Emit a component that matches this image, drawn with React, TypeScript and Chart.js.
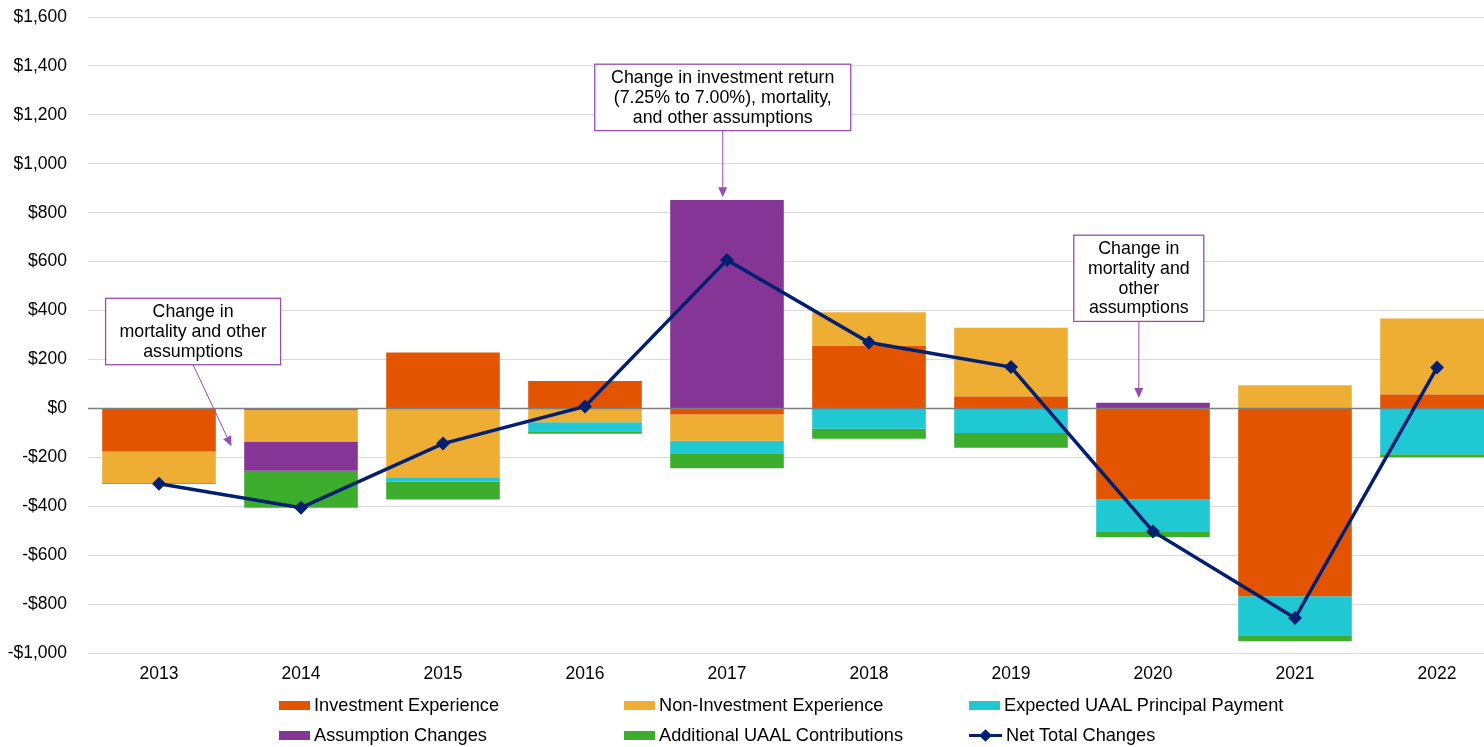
import React, { useEffect, useRef } from "react";
import { Chart, registerables } from "chart.js";

Chart.register(...registerables);

const years = ["2013", "2014", "2015", "2016", "2017", "2018", "2019", "2020", "2021", "2022"];
const investmentExperience = [-176, -8, 228, 112, -25, 255, 49, -372, -768, 57];
const nonInvestmentExperience = [-129, -127, -282, -57, -107, 138, 281, 0, 95, 310];
const expectedUaalPrincipal = [-4, 0, -17, -36, -51, -83, -101, -130, -159, -187];
const assumptionChanges = [0, -120, 0, 0, 852, 0, 0, 23, 0, 0];
const additionalUaalContributions = [0, -151, -73, -11, -62, -41, -60, -24, -25, -13];
const netTotalChanges = [-308, -406, -144, 8, 607, 269, 169, -503, -857, 167];

const yMin = -1000;
const yMax = 1600;
const yStep = 200;

const FONT = "'Liberation Sans', Arial, Helvetica, sans-serif";

const COLORS = {
  inv: "#E35400",
  nonInv: "#EDAE33",
  cyan: "#1FC8D2",
  purple: "#843596",
  green: "#3DAD2E",
  net: "#021F70",
  callout: "#9A4DB0",
};

type Callout = {
  lines: string[];
  cx: number; // category index (fractional)
  top: number; // value units
  width: number;
  arrowTo: [number, number]; // [category index, value]
};

const callouts: Callout[] = [
  { lines: ["Change in", "mortality and other", "assumptions"], cx: 0.24, top: 450, width: 175, arrowTo: [0.51, -155] },
  {
    lines: ["Change in investment return", "(7.25% to 7.00%), mortality,", "and other assumptions"],
    cx: 3.97,
    top: 1407,
    width: 256,
    arrowTo: [3.97, 863],
  },
  { lines: ["Change in", "mortality and", "other", "assumptions"], cx: 6.9, top: 708, width: 130, arrowTo: [6.9, 42] },
];

const legendItems = [
  { label: "Investment Experience", color: COLORS.inv, kind: "box" },
  { label: "Non-Investment Experience", color: COLORS.nonInv, kind: "box" },
  { label: "Expected UAAL Principal Payment", color: COLORS.cyan, kind: "box" },
  { label: "Assumption Changes", color: COLORS.purple, kind: "box" },
  { label: "Additional UAAL Contributions", color: COLORS.green, kind: "box" },
  { label: "Net Total Changes", color: COLORS.net, kind: "line" },
];

const fmtMoney = (v: number) => {
  const s = "$" + Math.abs(v).toLocaleString("en-US");
  return v < 0 ? "-" + s : s;
};

const zeroLinePlugin = {
  id: "zeroLine",
  beforeDatasetDraw(chart: any, args: any) {
    if (args.meta.type !== "line") return;
    const { ctx, chartArea } = chart;
    const y = Math.round(chart.scales.y.getPixelForValue(0)) + 0.5;
    ctx.save();
    ctx.strokeStyle = "#7F7F7F";
    ctx.lineWidth = 1.6;
    ctx.beginPath();
    ctx.moveTo(chartArea.left, y);
    ctx.lineTo(chartArea.right, y);
    ctx.stroke();
    ctx.restore();
  },
};

const calloutPlugin = {
  id: "callouts",
  afterDraw(chart: any) {
    const { ctx } = chart;
    const xs = chart.scales.x;
    const ys = chart.scales.y;
    const lh = 19.8;
    callouts.forEach((c) => {
      const cx = xs.getPixelForValue(c.cx);
      const top = ys.getPixelForValue(c.top);
      const h = c.lines.length * lh + 7;
      const left = cx - c.width / 2;
      ctx.save();
      ctx.fillStyle = "#FFFFFF";
      ctx.fillRect(left, top, c.width, h);
      ctx.strokeStyle = COLORS.callout;
      ctx.lineWidth = 1.3;
      ctx.strokeRect(left, top, c.width, h);
      ctx.fillStyle = "#000000";
      ctx.font = `17.8px ${FONT}`;
      ctx.textAlign = "center";
      ctx.textBaseline = "middle";
      c.lines.forEach((ln, i) => ctx.fillText(ln, cx, top + 14 + i * lh));
      // arrow
      const sx = cx;
      const sy = top + h;
      const ex = xs.getPixelForValue(c.arrowTo[0]);
      const ey = ys.getPixelForValue(c.arrowTo[1]);
      const ang = Math.atan2(ey - sy, ex - sx);
      const al = 10;
      const aw = 4.5;
      const bx = ex - Math.cos(ang) * al;
      const by = ey - Math.sin(ang) * al;
      ctx.strokeStyle = COLORS.callout;
      ctx.lineWidth = 1;
      ctx.beginPath();
      ctx.moveTo(sx, sy);
      ctx.lineTo(bx, by);
      ctx.stroke();
      ctx.fillStyle = COLORS.callout;
      ctx.beginPath();
      ctx.moveTo(ex, ey);
      ctx.lineTo(bx - Math.sin(ang) * aw, by + Math.cos(ang) * aw);
      ctx.lineTo(bx + Math.sin(ang) * aw, by - Math.cos(ang) * aw);
      ctx.closePath();
      ctx.fill();
      ctx.restore();
    });
  },
};

const nz = (arr: number[]) => arr.map((v) => (v === 0 ? null : v));

export default function App() {
  const canvasRef = useRef<HTMLCanvasElement | null>(null);

  useEffect(() => {
    if (!canvasRef.current) return;
    const barCommon = {
      type: "bar" as const,
      stack: "s",
      order: 1,
      barPercentage: 0.8,
      categoryPercentage: 1,
      borderWidth: 0,
    };
    const chart = new Chart(canvasRef.current, {
      type: "bar",
      data: {
        labels: years,
        datasets: [
          { ...barCommon, label: "Investment Experience", data: nz(investmentExperience), backgroundColor: COLORS.inv },
          { ...barCommon, label: "Non-Investment Experience", data: nz(nonInvestmentExperience), backgroundColor: COLORS.nonInv },
          { ...barCommon, label: "Expected UAAL Principal Payment", data: nz(expectedUaalPrincipal), backgroundColor: COLORS.cyan },
          { ...barCommon, label: "Assumption Changes", data: nz(assumptionChanges), backgroundColor: COLORS.purple },
          { ...barCommon, label: "Additional UAAL Contributions", data: nz(additionalUaalContributions), backgroundColor: COLORS.green },
          {
            type: "line" as const,
            label: "Net Total Changes",
            data: netTotalChanges,
            order: 0,
            borderColor: COLORS.net,
            backgroundColor: COLORS.net,
            borderWidth: 3.5,
            pointStyle: "rectRot",
            pointRadius: 7,
            pointBorderWidth: 0,
            tension: 0,
            fill: false,
          } as any,
        ],
      },
      options: {
        animation: false,
        responsive: true,
        maintainAspectRatio: false,
        layout: { padding: { top: 17, right: 0, bottom: 54, left: 0 } },
        plugins: {
          legend: { display: false },
          tooltip: { enabled: false },
        },
        scales: {
          x: {
            stacked: true,
            offset: true,
            grid: { display: false, drawTicks: false },
            border: { display: false },
            ticks: { color: "#000", font: { family: FONT, size: 17.5 }, padding: 11, maxRotation: 0 },
            afterFit: (s: any) => {
              s.height = 40;
              s.paddingLeft = 0;
              s.paddingRight = 0;
            },
          },
          y: {
            stacked: true,
            min: yMin,
            max: yMax,
            grid: { color: "#D9D9D9", lineWidth: 1, drawTicks: false },
            border: { display: false },
            ticks: {
              stepSize: yStep,
              color: "#000",
              font: { family: FONT, size: 17.5 },
              padding: 21,
              callback: (v: any) => fmtMoney(Number(v)),
            },
            afterFit: (s: any) => {
              s.width = 88;
              s.paddingTop = 0;
              s.paddingBottom = 0;
            },
          },
        },
      },
      plugins: [zeroLinePlugin, calloutPlugin],
    } as any);
    return () => chart.destroy();
  }, []);

  const colLeft = [279, 624, 969];
  const rowCenter = [705, 735];

  return (
    <div style={{ position: "fixed", left: 0, top: 0, width: 1484, height: 747, overflow: "hidden", background: "#fff" }}>
      <div style={{ position: "absolute", left: 0, top: 0, width: 1515, height: 747 }}>
        <canvas ref={canvasRef} />
      </div>
      {legendItems.map((it, i) => {
        const col = i % 3;
        const row = Math.floor(i / 3);
        return (
          <div
            key={it.label}
            style={{
              position: "absolute",
              left: colLeft[col],
              top: rowCenter[row] - 12,
              height: 24,
              display: "flex",
              alignItems: "center",
              fontFamily: FONT,
              fontSize: 18.2,
              color: "#000",
              whiteSpace: "nowrap",
            }}
          >
            {it.kind === "box" ? (
              <span style={{ display: "inline-block", width: 31, height: 9, background: it.color, marginRight: 4 }} />
            ) : (
              <span style={{ position: "relative", display: "inline-block", width: 33, height: 14, marginRight: 4 }}>
                <span
                  style={{ position: "absolute", left: 0, top: 5.5, width: 33, height: 3.5, background: it.color }}
                />
                <span
                  style={{
                    position: "absolute",
                    left: 12,
                    top: 2.5,
                    width: 9,
                    height: 9,
                    background: it.color,
                    transform: "rotate(45deg)",
                  }}
                />
              </span>
            )}
            <span>{it.label}</span>
          </div>
        );
      })}
    </div>
  );
}
